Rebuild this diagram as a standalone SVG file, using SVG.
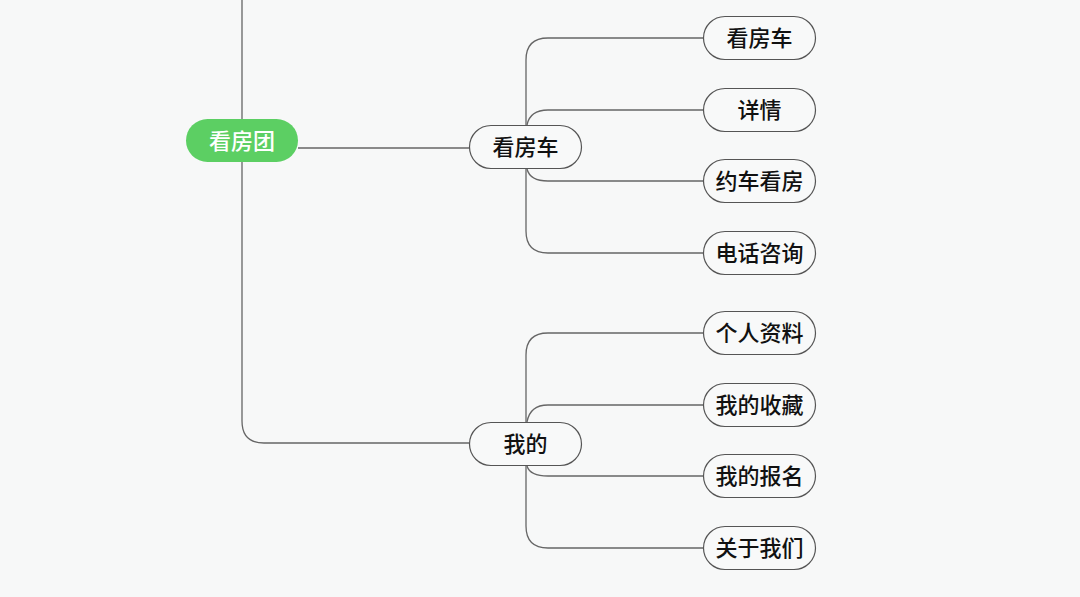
<svg xmlns="http://www.w3.org/2000/svg" width="1080" height="597" viewBox="0 0 1080 597">
<style>
.bg{fill:#f7f8f8}
.c{fill:none;stroke:#666;stroke-width:1.3}
.n{fill:#f8f9f9;stroke:#555;stroke-width:1.2}
.r{fill:#5ccf63}
.t{font-family:"Noto Sans CJK SC","Noto Sans",sans-serif;font-size:22px;font-weight:500;fill:#111;text-anchor:middle;dominant-baseline:central}
.tw{fill:#fff}
</style>
<rect class="bg" x="0" y="0" width="1080" height="597"/>
<g id="connectors">
<path class="c" d="M242,0 V421 Q242,443 264,443 H469"/>
<path class="c" d="M298,148 H469"/>
<path class="c" d="M526,125 V60 Q526,38 548,38 H703"/>
<path class="c" d="M527,125 Q530,110 548,110 H703"/>
<path class="c" d="M527,169 Q530,181 548,181 H703"/>
<path class="c" d="M526,169 V231 Q526,253 548,253 H703"/>
<path class="c" d="M526,422 V355 Q526,333 548,333 H703"/>
<path class="c" d="M527,422 Q530,405 548,405 H703"/>
<path class="c" d="M527,466 Q530,476 548,476 H703"/>
<path class="c" d="M526,466 V526 Q526,548 548,548 H703"/>
</g>
<g id="root"><rect class="r" x="186" y="119" width="112" height="43" rx="21.5"/><text class="t tw" x="242" y="139">看房团</text></g>
<g id="n1"><rect class="n" x="469.5" y="125.5" width="112" height="43" rx="21.5"/><text class="t" x="525.5" y="144.5">看房车</text></g>
<g id="n2"><rect class="n" x="469.5" y="422.5" width="112" height="43" rx="21.5"/><text class="t" x="525.5" y="441.5">我的</text></g>
<g id="c1"><rect class="n" x="703.5" y="16.5" width="112" height="43" rx="21.5"/><text class="t" x="759.5" y="35.5">看房车</text></g>
<g id="c2"><rect class="n" x="703.5" y="88.5" width="112" height="43" rx="21.5"/><text class="t" x="759.5" y="107.5">详情</text></g>
<g id="c3"><rect class="n" x="703.5" y="159.5" width="112" height="43" rx="21.5"/><text class="t" x="759.5" y="178.5">约车看房</text></g>
<g id="c4"><rect class="n" x="703.5" y="231.5" width="112" height="43" rx="21.5"/><text class="t" x="759.5" y="250.5">电话咨询</text></g>
<g id="c5"><rect class="n" x="703.5" y="311.5" width="112" height="43" rx="21.5"/><text class="t" x="759.5" y="330.5">个人资料</text></g>
<g id="c6"><rect class="n" x="703.5" y="383.5" width="112" height="43" rx="21.5"/><text class="t" x="759.5" y="402.5">我的收藏</text></g>
<g id="c7"><rect class="n" x="703.5" y="454.5" width="112" height="43" rx="21.5"/><text class="t" x="759.5" y="473.5">我的报名</text></g>
<g id="c8"><rect class="n" x="703.5" y="526.5" width="112" height="43" rx="21.5"/><text class="t" x="759.5" y="545.5">关于我们</text></g>
</svg>
